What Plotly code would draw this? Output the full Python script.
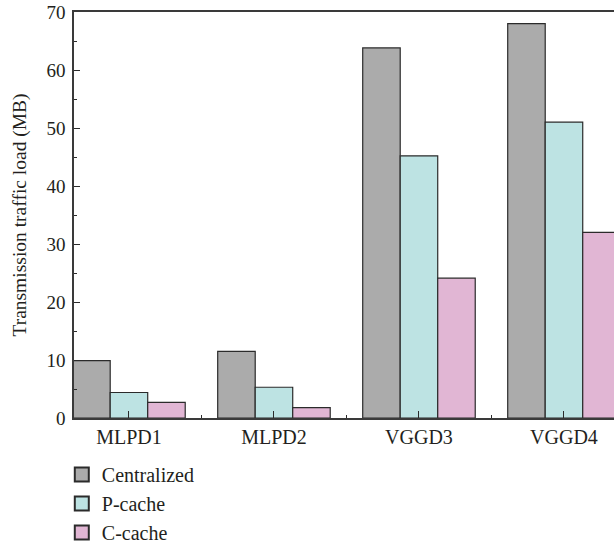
import plotly.graph_objects as go

categories = ["MLPD1", "MLPD2", "VGGD3", "VGGD4"]
series_names = ["Centralized", "P-cache", "C-cache"]
centralized = [9.9, 11.5, 63.8, 68.0]
p_cache = [4.4, 5.3, 45.2, 51.0]
c_cache = [2.7, 1.8, 24.1, 32.0]
y_ticks = [0, 10, 20, 30, 40, 50, 60, 70]
colors = ["#ababab", "#bde3e3", "#e1b6d4"]

xpos = list(range(len(categories)))
edge = dict(color="#2b2b2b", width=1.2)
font = "Liberation Serif, Times New Roman, serif"

fig = go.Figure()
for name, vals, col in zip(series_names, [centralized, p_cache, c_cache], colors):
    fig.add_trace(go.Bar(x=xpos, y=vals, name=name, showlegend=False,
                         marker=dict(color=col, line=edge)))
# legend entries with larger square symbols
for name, col in zip(series_names, colors):
    fig.add_trace(go.Scatter(x=[None], y=[None], mode="markers", name=name,
                             marker=dict(symbol="square", size=14, color=col,
                                         line=dict(color="#2b2b2b", width=2))))

fig.update_layout(
    width=614, height=550,
    margin=dict(l=74, r=0, t=12, b=132, autoexpand=False),
    paper_bgcolor="white", plot_bgcolor="white",
    barmode="group", bargap=0.224, bargroupgap=0,
    font=dict(family=font, size=19, color="#231f20"),
    showlegend=True,
    legend=dict(x=-0.0226, y=-0.091, xanchor="left", yanchor="top",
                bgcolor="rgba(0,0,0,0)", font=dict(size=20)),
)
fig.update_xaxes(
    range=[-0.379, 3.345],
    tickmode="array", tickvals=xpos, ticktext=categories,
    ticks="inside", ticklen=7, tickwidth=1.2, tickcolor="#2b2b2b",
    minor=dict(tickmode="array", tickvals=[0.5, 1.5, 2.5], ticks="inside",
               ticklen=3, tickwidth=1.2, tickcolor="#2b2b2b"),
    showline=True, linecolor="#3a3a3a", linewidth=1.5, mirror=True,
    showgrid=False, zeroline=False,
    tickfont=dict(size=20),
)
fig.update_yaxes(
    range=[0, 70],
    tickmode="array", tickvals=y_ticks,
    ticks="inside", ticklen=6, tickwidth=1.2, tickcolor="#2b2b2b",
    minor=dict(dtick=5, ticks="inside", ticklen=3, tickwidth=1.2, tickcolor="#2b2b2b"),
    showline=True, linecolor="#3a3a3a", linewidth=1.5, mirror=False,
    showgrid=False, zeroline=False,
    tickfont=dict(size=19), ticklabelstandoff=3,
    title=dict(text="Transmission traffic load (MB)", font=dict(size=19.5), standoff=15),
)

fig.write_html("out.html")
